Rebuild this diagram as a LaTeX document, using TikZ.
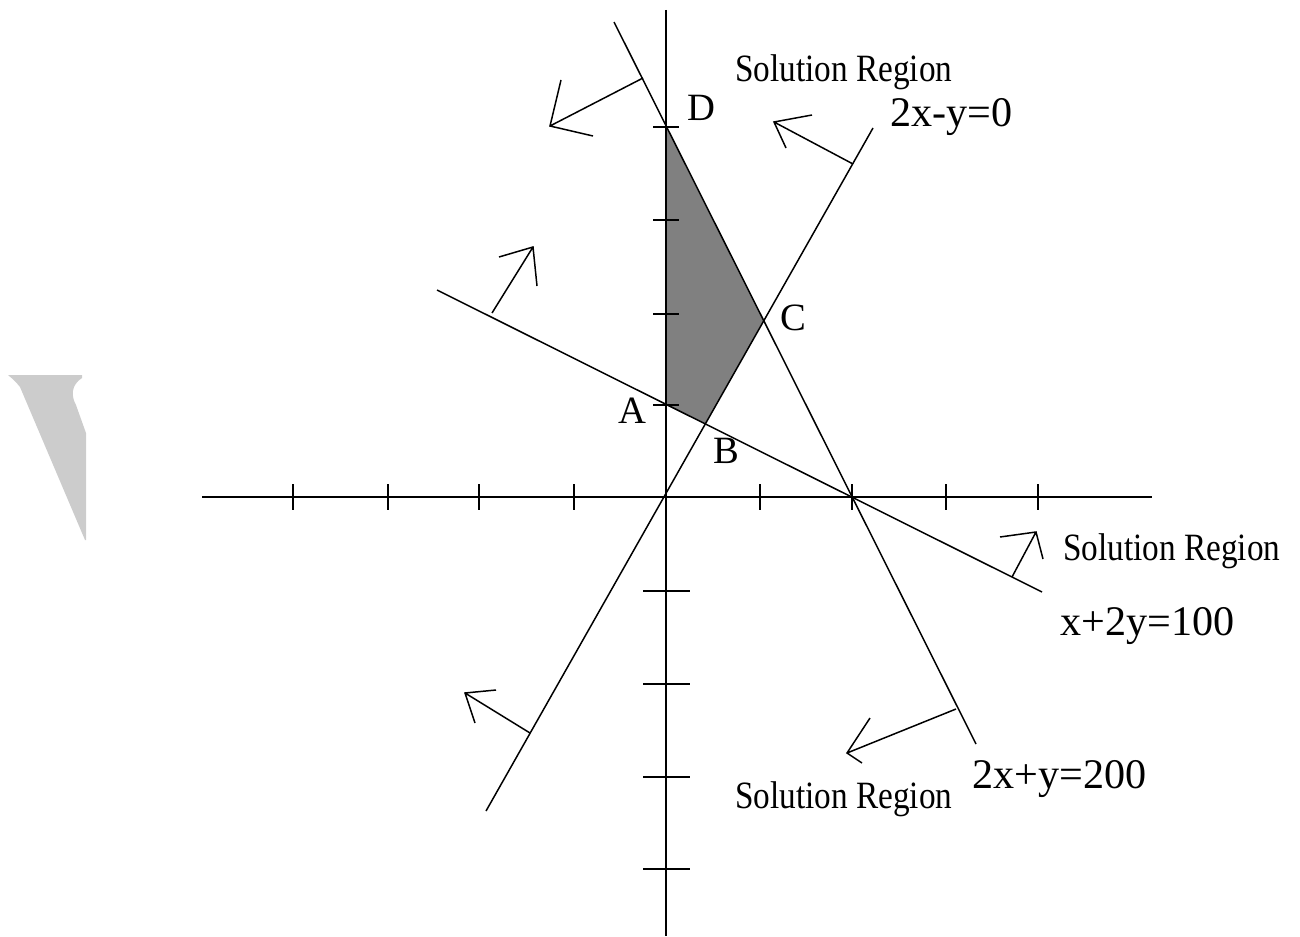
\documentclass[tikz,border=0pt]{standalone}
\usepackage{fontspec}
\setmainfont{Liberation Serif}
\newfontfamily\srfont[FakeStretch=0.86]{Liberation Serif}
\begin{document}
\begin{tikzpicture}[x=0.02cm,y=-0.02cm,
  ln/.style={line width=0.85pt},
  ax/.style={line width=1.15pt},
  tk/.style={line width=1.1pt},
  eq/.style={inner sep=0pt, anchor=base west, font=\fontsize{24}{28}\selectfont},
  pt/.style={inner sep=0pt, anchor=base west, font=\fontsize{22}{26}\selectfont},
  sr/.style={inner sep=0pt, anchor=base west, font=\srfont\fontsize{22}{26}\selectfont}]
\useasboundingbox (0,0) rectangle (1300,936);
% watermark
\fill[black!20] (8,375) -- (82,375) -- (82,378) .. controls (71,385) and (71,396) .. (76,405) -- (86,433) -- (86,540) -- (85,540) -- (20,387) .. controls (15,381) .. (8,375) -- cycle;
% line endpoints
\coordinate (L1a) at (437,290); \coordinate (L1b) at (1042,592);
\coordinate (L2a) at (614,22);  \coordinate (L2b) at (976,744);
\coordinate (L3a) at (486,811); \coordinate (L3b) at (873,128);
\coordinate (D) at (666,127);
\coordinate (A) at (666,405);
\coordinate (C) at (intersection of L2a--L2b and L3a--L3b);
\coordinate (B) at (intersection of L1a--L1b and L3a--L3b);
% feasible region
\fill[black!50] (D) -- (C) -- (B) -- (A) -- cycle;
% axes
\coordinate (xl) at (202,497); \coordinate (xr) at (1152,497);
\coordinate (yt) at (666,10);  \coordinate (yb) at (666,936);
\draw[ax] (xl) -- (xr);
\draw[ax] (yt) -- (yb);
\foreach \x in {293,388,479,574,760,852,946,1038}
  \draw[tk] (\x,484) -- (\x,510);
\foreach \y in {127,220,314,405}
  \draw[tk] (653,\y) -- (679,\y);
\foreach \y in {591,684,777,869}
  \draw[tk] (643,\y) -- (690,\y);
% constraint lines
\draw[ln] (L1a) -- (L1b);
\draw[ln] (L2a) -- (L2b);
\draw[ln] (L3a) -- (L3b);
% direction arrows
\coordinate (a1b) at (643,78);  \coordinate (a1t) at (550,126);
\coordinate (a1h) at (561,80);  \coordinate (a1k) at (593,136);
\coordinate (a2b) at (853,164); \coordinate (a2t) at (774,122);
\coordinate (a2h) at (812,115); \coordinate (a2k) at (786,148);
\coordinate (a3b) at (492,313); \coordinate (a3t) at (533,247);
\coordinate (a3h) at (499,257); \coordinate (a3k) at (537,286);
\coordinate (a4b) at (1012,577); \coordinate (a4t) at (1036,532);
\coordinate (a4h) at (1000,537); \coordinate (a4k) at (1043,559);
\coordinate (a5b) at (956,709); \coordinate (a5t) at (847,753);
\coordinate (a5h) at (870,718); \coordinate (a5k) at (862,763);
\coordinate (a6b) at (530,733); \coordinate (a6t) at (465,693);
\coordinate (a6h) at (496,690); \coordinate (a6k) at (475,723);
\foreach \i in {1,...,6}
  \draw[ln] (a\i b) -- (a\i t) (a\i h) -- (a\i t) -- (a\i k);
% labels
\node[sr] (s1) at (735,82) {Solution Region};
\node[sr] (s2) at (1063,560) {Solution Region};
\node[sr] (s3) at (735,808) {Solution Region};
\node[eq] (e1) at (890,126) {2x-y=0};
\node[eq] (e2) at (1060,635) {x+2y=100};
\node[eq] (e3) at (972,788) {2x+y=200};
\node[pt] (nD) at (687,120) {D};
\node[pt] (nC) at (780,330) {C};
\node[pt] (nA) at (618,423) {A};
\node[pt] (nB) at (713,463) {B};
\end{tikzpicture}
\end{document}
